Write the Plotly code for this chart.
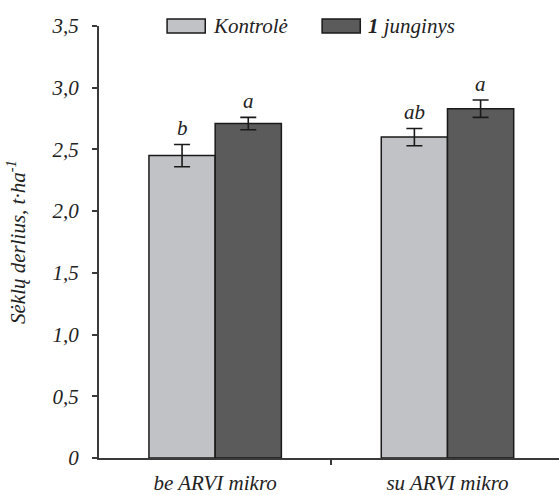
import plotly.graph_objects as go

categories = ["be ARVI mikro", "su ARVI mikro"]
series_names = ["Kontrolė", "<b>1</b> junginys"]
kontrole = [2.45, 2.60]
kontrole_err = [0.09, 0.07]
junginys = [2.71, 2.83]
junginys_err = [0.05, 0.07]
kontrole_letters = ["b", "ab"]
junginys_letters = ["a", "a"]
y_ticks = [0, 0.5, 1.0, 1.5, 2.0, 2.5, 3.0, 3.5]
y_ticklabels = ["0", "0,5", "1,0", "1,5", "2,0", "2,5", "3,0", "3,5"]

FONT = "Liberation Serif, Times New Roman, serif"
TXT = "#222"
EDGE = "#1a1a1a"
colors = ["#c1c2c6", "#5b5b5b"]
bargap = 0.43


def f(size=21):
    return dict(family=FONT, size=size, color=TXT, style="italic")


fig = go.Figure()
for name, vals, errs, col in [(series_names[0], kontrole, kontrole_err, colors[0]),
                              (series_names[1], junginys, junginys_err, colors[1])]:
    fig.add_trace(go.Bar(
        name=name, x=list(range(len(categories))), y=vals,
        marker=dict(color=col, line=dict(color=EDGE, width=1.5)),
        error_y=dict(type="data", array=errs, color=EDGE, thickness=1.6, width=8),
        showlegend=False,
    ))

# significance letters above error bars
bw = (1 - bargap) / 2
annotations = []
for gi, (vals, errs, letters) in enumerate([(kontrole, kontrole_err, kontrole_letters),
                                            (junginys, junginys_err, junginys_letters)]):
    off = -bw / 2 if gi == 0 else bw / 2
    for i, (v, e, t) in enumerate(zip(vals, errs, letters)):
        annotations.append(dict(x=i + off, y=v + e, xref="x", yref="y", text=t,
                                showarrow=False, yanchor="bottom", yshift=2,
                                font=f(21)))

# legend drawn as boxes + labels along the top edge of the plot area
legend_x = [0.148, 0.485]   # left edge of each legend box (paper fraction)
box_w = 0.083
shapes = []
for lx, col, name in zip(legend_x, colors, series_names):
    shapes.append(dict(type="rect", xref="paper", yref="paper",
                       x0=lx, x1=lx + box_w, y0=0.984, y1=1.016,
                       fillcolor=col, line=dict(color=EDGE, width=1.5)))
    annotations.append(dict(x=lx + box_w + 0.012, y=1.0, xref="paper", yref="paper",
                            text=name, showarrow=False, xanchor="left",
                            yanchor="middle", font=f(21)))

fig.update_layout(
    width=559, height=495,
    margin=dict(l=99, r=0, t=26, b=37),
    paper_bgcolor="white", plot_bgcolor="white",
    barmode="group", bargap=bargap, bargroupgap=0,
    showlegend=False,
    annotations=annotations,
    shapes=shapes,
    font=f(21),
)
fig.update_xaxes(
    type="linear", range=[-0.5, 1.48],
    tickmode="array", tickvals=[0, 1], ticktext=categories,
    showline=True, linecolor="#3a3a3a", linewidth=2,
    ticks="", showgrid=False, zeroline=False,
    tickfont=f(21),
    ticklabelstandoff=5,
    minor=dict(tickmode="array", tickvals=[0.5], ticks="outside", ticklen=5,
               tickcolor="#3a3a3a", tickwidth=2, showgrid=False),
)
fig.update_yaxes(
    range=[0, 3.5], tickmode="array", tickvals=y_ticks, ticktext=y_ticklabels,
    showline=True, linecolor="#3a3a3a", linewidth=2,
    ticks="outside", ticklen=5, tickcolor="#3a3a3a", tickwidth=2,
    showgrid=False, zeroline=False,
    tickfont=f(21),
    ticklabelstandoff=9,
    title=dict(text="Sėklų derlius, t·ha<sup>-1</sup>", font=f(21), standoff=20),
)

fig.write_html("out.html")
